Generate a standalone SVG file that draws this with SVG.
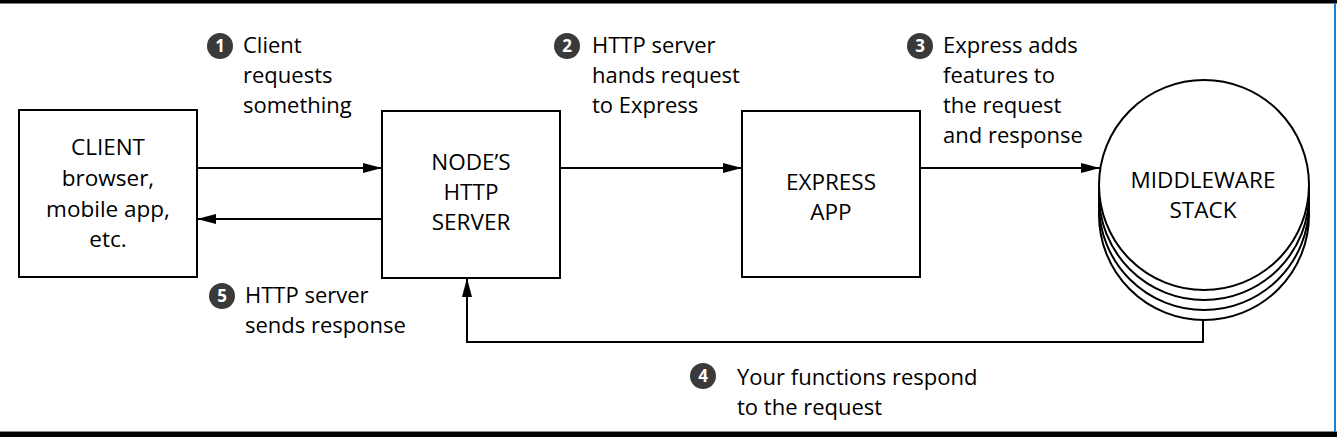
<svg xmlns="http://www.w3.org/2000/svg" width="1337" height="437" viewBox="0 0 1337 437">
<style>
.box{fill:#fff;stroke:#000;stroke-width:2}
.disk{fill:#fff;stroke:#000;stroke-width:2}
.conn{fill:none;stroke:#000;stroke-width:2}
.t{font-family:"Open Sans","Liberation Sans",sans-serif;font-size:22px;fill:#000}
.n{font-size:22.5px}
.c{text-anchor:middle}
.num{fill:#3a3a3a}
.numt{font-family:"Open Sans","Liberation Sans",sans-serif;font-size:17px;font-weight:bold;fill:#fff;text-anchor:middle}
</style>
<defs>
<marker id="ah" viewBox="0 0 19 10" refX="19" refY="5" markerWidth="19" markerHeight="10" markerUnits="userSpaceOnUse" orient="auto">
<path d="M0,0 L19,5 L0,10 Z" fill="#000"/>
</marker>
</defs>
<rect x="0" y="0" width="1337" height="437" fill="#fff"/>
<rect x="0" y="0" width="1337" height="3.5" fill="#000"/>
<rect x="0" y="431" width="1337" height="1" fill="#888"/>
<rect x="0" y="432" width="1337" height="5" fill="#000"/>
<rect x="1334" y="3" width="2" height="429" fill="#1a80d8"/>

<g id="connectors">
<line class="conn" x1="197" y1="168" x2="382" y2="168" marker-end="url(#ah)"/>
<line class="conn" x1="382" y1="219" x2="197" y2="219" marker-end="url(#ah)"/>
<line class="conn" x1="560" y1="168" x2="742" y2="168" marker-end="url(#ah)"/>
<line class="conn" x1="920" y1="168" x2="1100" y2="168" marker-end="url(#ah)"/>
<polyline class="conn" points="1203,320 1203,342 467,342 467,278" marker-end="url(#ah)"/>
</g>

<g id="client">
<rect class="box" x="19" y="110" width="178" height="167"/>
<text class="t n c" x="108" y="155">CLIENT</text>
<text class="t n c" x="108" y="186">browser,</text>
<text class="t n c" x="108" y="217">mobile app,</text>
<text class="t n c" x="108" y="247">etc.</text>
</g>

<g id="node-server">
<rect class="box" x="382" y="111" width="178" height="167"/>
<text class="t n c" x="471" y="170">NODE’S</text>
<text class="t n c" x="471" y="200">HTTP</text>
<text class="t n c" x="471" y="230">SERVER</text>
</g>

<g id="express-app">
<rect class="box" x="742" y="111" width="178" height="166"/>
<text class="t n c" x="831" y="190">EXPRESS</text>
<text class="t n c" x="831" y="220">APP</text>
</g>

<g id="middleware-stack">
<circle class="disk" cx="1204" cy="215" r="105"/>
<circle class="disk" cx="1204" cy="205" r="105"/>
<circle class="disk" cx="1204" cy="195" r="105"/>
<circle class="disk" cx="1204" cy="185" r="105"/>
<text class="t n c" x="1203" y="188">MIDDLEWARE</text>
<text class="t n c" x="1203" y="218">STACK</text>
</g>

<g id="step1">
<circle class="num" cx="220" cy="46" r="13"/>
<text class="numt" x="220" y="52">1</text>
<text class="t" x="243" y="53">Client</text>
<text class="t" x="243" y="83">requests</text>
<text class="t" x="243" y="113">something</text>
</g>

<g id="step2">
<circle class="num" cx="567" cy="46" r="13"/>
<text class="numt" x="567" y="52">2</text>
<text class="t" x="592" y="53">HTTP server</text>
<text class="t" x="592" y="83">hands request</text>
<text class="t" x="592" y="113">to Express</text>
</g>

<g id="step3">
<circle class="num" cx="920" cy="46" r="13"/>
<text class="numt" x="920" y="52">3</text>
<text class="t" x="943" y="53">Express adds</text>
<text class="t" x="943" y="83">features to</text>
<text class="t" x="943" y="113">the request</text>
<text class="t" x="943" y="143">and response</text>
</g>

<g id="step4">
<circle class="num" cx="703" cy="376" r="13"/>
<text class="numt" x="703" y="382">4</text>
<text class="t" x="737" y="385">Your functions respond</text>
<text class="t" x="737" y="415">to the request</text>
</g>

<g id="step5">
<circle class="num" cx="222" cy="296" r="13"/>
<text class="numt" x="222" y="302">5</text>
<text class="t" x="245" y="303">HTTP server</text>
<text class="t" x="245" y="333">sends response</text>
</g>
</svg>
